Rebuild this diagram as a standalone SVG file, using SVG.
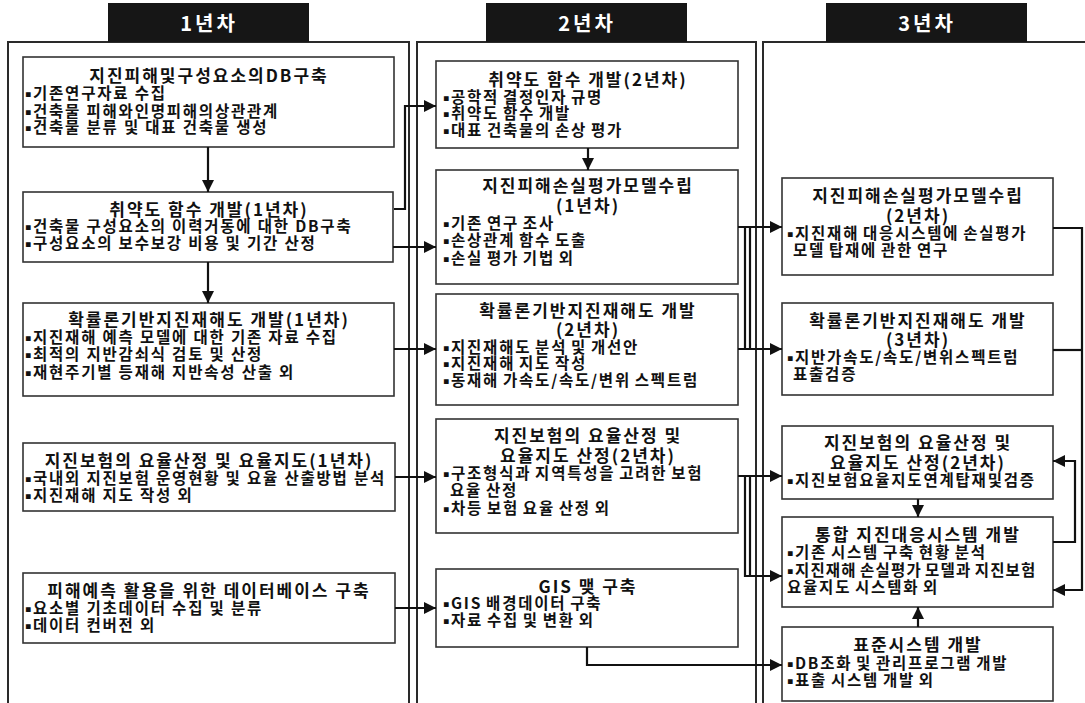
<svg xmlns="http://www.w3.org/2000/svg" width="1085" height="703" viewBox="0 0 1085 703">
<style>
.frame{fill:none;stroke:#2a2a2a;stroke-width:2}
.hdr{fill:#161616}
.hdrt{fill:#fff;font-family:"Noto Sans CJK KR","Noto Sans",sans-serif;font-weight:bold;font-size:20px;letter-spacing:3px;text-anchor:middle}
.box{fill:#fff;stroke:#333;stroke-width:1.6}
.t{font-family:"Noto Sans CJK KR","Noto Sans",sans-serif;font-weight:bold;font-size:17px;letter-spacing:2px;text-anchor:middle;fill:#111}
.b{font-family:"Noto Sans CJK KR","Noto Sans",sans-serif;font-weight:bold;font-size:15.5px;letter-spacing:1.8px;fill:#111}
.b2{word-spacing:-1.5px}
.b3{word-spacing:-1.5px}
.bu{font-family:"DejaVu Sans",sans-serif;font-size:9.5px;letter-spacing:1.5px}
.c{fill:none;stroke:#111;stroke-width:2.2}
.ca{fill:none;stroke:#111;stroke-width:2.2;marker-end:url(#ah)}
</style>
<defs>
<marker id="ah" viewBox="0 0 10 10" refX="10" refY="5" markerWidth="12" markerHeight="12" markerUnits="userSpaceOnUse" orient="auto"><path d="M0,0 L10,5 L0,10z" fill="#111"/></marker>
</defs>
<rect width="1085" height="703" fill="#fff"/>
<g id="columns">
<rect class="frame" x="8" y="42" width="401" height="680"/>
<rect class="frame" x="417" y="42" width="339" height="680"/>
<rect class="frame" x="763" y="42" width="340" height="680"/>
<rect class="hdr" x="108" y="3" width="201" height="39"/>
<text class="hdrt" x="209" y="31">1년차</text>
<rect class="hdr" x="486" y="3" width="201" height="39"/>
<text class="hdrt" x="587" y="31">2년차</text>
<rect class="hdr" x="826" y="3" width="201" height="39"/>
<text class="hdrt" x="927" y="31">3년차</text>
</g>
<g id="n1">
<rect class="box" x="23" y="57" width="371" height="90"/>
<text class="t" x="209" y="82">지진피해및구성요소의DB구축</text>
<text class="b" x="25" y="99"><tspan class="bu" dy="-1.6">▪</tspan><tspan dy="1.6">기존연구자료 수집</tspan></text>
<text class="b" x="25" y="117"><tspan class="bu" dy="-1.6">▪</tspan><tspan dy="1.6">건축물 피해와인명피해의상관관계</tspan></text>
<text class="b" x="25" y="133"><tspan class="bu" dy="-1.6">▪</tspan><tspan dy="1.6">건축물 분류 및 대표 건축물 생성</tspan></text>
</g>
<g id="n2">
<rect class="box" x="23" y="192" width="370" height="70"/>
<text class="t" x="209" y="216">취약도 함수 개발(1년차)</text>
<text class="b" x="25" y="232"><tspan class="bu" dy="-1.6">▪</tspan><tspan dy="1.6">건축물 구성요소의 이력거동에 대한 DB구축</tspan></text>
<text class="b" x="25" y="249"><tspan class="bu" dy="-1.6">▪</tspan><tspan dy="1.6">구성요소의 보수보강 비용 및 기간 산정</tspan></text>
</g>
<g id="n3">
<rect class="box" x="23" y="303" width="371" height="93"/>
<text class="t" x="209" y="326">확률론기반지진재해도 개발(1년차)</text>
<text class="b" x="25" y="343"><tspan class="bu" dy="-1.6">▪</tspan><tspan dy="1.6">지진재해 예측 모델에 대한 기존 자료 수집</tspan></text>
<text class="b" x="25" y="360"><tspan class="bu" dy="-1.6">▪</tspan><tspan dy="1.6">최적의 지반감쇠식 검토 및 산정</tspan></text>
<text class="b" x="25" y="378"><tspan class="bu" dy="-1.6">▪</tspan><tspan dy="1.6">재현주기별 등재해 지반속성 산출 외</tspan></text>
</g>
<g id="n4">
<rect class="box" x="23" y="443" width="372" height="68"/>
<text class="t" x="209" y="467">지진보험의 요율산정 및 요율지도(1년차)</text>
<text class="b" x="25" y="484"><tspan class="bu" dy="-1.6">▪</tspan><tspan dy="1.6">국내외 지진보험 운영현황 및 요율 산출방법 분석</tspan></text>
<text class="b" x="25" y="501"><tspan class="bu" dy="-1.6">▪</tspan><tspan dy="1.6">지진재해 지도 작성 외</tspan></text>
</g>
<g id="n5">
<rect class="box" x="23" y="573" width="372" height="70"/>
<text class="t" x="209" y="597">피해예측 활용을 위한 데이터베이스 구축</text>
<text class="b" x="25" y="614"><tspan class="bu" dy="-1.6">▪</tspan><tspan dy="1.6">요소별 기초데이터 수집 및 분류</tspan></text>
<text class="b" x="25" y="631"><tspan class="bu" dy="-1.6">▪</tspan><tspan dy="1.6">데이터 컨버전 외</tspan></text>
</g>
<g id="n6">
<rect class="box" x="436" y="61" width="302" height="87"/>
<text class="t" x="588" y="86">취약도 함수 개발(2년차)</text>
<text class="b b2" x="443" y="103"><tspan class="bu" dy="-1.6">▪</tspan><tspan dy="1.6">공학적 결정인자 규명</tspan></text>
<text class="b b2" x="443" y="119"><tspan class="bu" dy="-1.6">▪</tspan><tspan dy="1.6">취약도 함수 개발</tspan></text>
<text class="b b2" x="443" y="136"><tspan class="bu" dy="-1.6">▪</tspan><tspan dy="1.6">대표 건축물의 손상 평가</tspan></text>
</g>
<g id="n7">
<rect class="box" x="436" y="170" width="302" height="114"/>
<text class="t" x="588" y="192">지진피해손실평가모델수립</text>
<text class="t" x="588" y="212">(1년차)</text>
<text class="b b2" x="443" y="229"><tspan class="bu" dy="-1.6">▪</tspan><tspan dy="1.6">기존 연구 조사</tspan></text>
<text class="b b2" x="443" y="246"><tspan class="bu" dy="-1.6">▪</tspan><tspan dy="1.6">손상관계 함수 도출</tspan></text>
<text class="b b2" x="443" y="264"><tspan class="bu" dy="-1.6">▪</tspan><tspan dy="1.6">손실 평가 기법 외</tspan></text>
</g>
<g id="n8">
<rect class="box" x="436" y="294" width="302" height="111"/>
<text class="t" x="588" y="317">확률론기반지진재해도 개발</text>
<text class="t" x="588" y="336">(2년차)</text>
<text class="b b2" x="443" y="353"><tspan class="bu" dy="-1.6">▪</tspan><tspan dy="1.6">지진재해도 분석 및 개선안</tspan></text>
<text class="b b2" x="443" y="369"><tspan class="bu" dy="-1.6">▪</tspan><tspan dy="1.6">지진재해 지도 작성</tspan></text>
<text class="b b2" x="443" y="386"><tspan class="bu" dy="-1.6">▪</tspan><tspan dy="1.6">동재해 가속도/속도/변위 스펙트럼</tspan></text>
</g>
<g id="n9">
<rect class="box" x="436" y="419" width="302" height="114"/>
<text class="t" x="588" y="442">지진보험의 요율산정 및</text>
<text class="t" x="588" y="462">요율지도 산정(2년차)</text>
<text class="b b2" x="443" y="479"><tspan class="bu" dy="-1.6">▪</tspan><tspan dy="1.6">구조형식과 지역특성을 고려한 보험</tspan></text>
<text class="b b2" x="450" y="496">요율 산정</text>
<text class="b b2" x="443" y="514"><tspan class="bu" dy="-1.6">▪</tspan><tspan dy="1.6">차등 보험 요율 산정 외</tspan></text>
</g>
<g id="n10">
<rect class="box" x="436" y="569" width="302" height="78"/>
<text class="t" x="588" y="593">GIS 맺 구축</text>
<text class="b b2" x="443" y="609"><tspan class="bu" dy="-1.6">▪</tspan><tspan dy="1.6">GIS 배경데이터 구축</tspan></text>
<text class="b b2" x="443" y="626"><tspan class="bu" dy="-1.6">▪</tspan><tspan dy="1.6">자료 수집 및 변환 외</tspan></text>
</g>
<g id="n11">
<rect class="box" x="782" y="178" width="271" height="97"/>
<text class="t" x="918" y="202">지진피해손실평가모델수립</text>
<text class="t" x="918" y="222">(2년차)</text>
<text class="b b3" x="787" y="239"><tspan class="bu" dy="-1.6">▪</tspan><tspan dy="1.6">지진재해 대응시스템에 손실평가</tspan></text>
<text class="b b3" x="793" y="256">모델 탑재에 관한 연구</text>
</g>
<g id="n12">
<rect class="box" x="782" y="303" width="271" height="92"/>
<text class="t" x="918" y="327">확률론기반지진재해도 개발</text>
<text class="t" x="918" y="346">(3년차)</text>
<text class="b b3" x="787" y="363"><tspan class="bu" dy="-1.6">▪</tspan><tspan dy="1.6">지반가속도/속도/변위스펙트럼</tspan></text>
<text class="b b3" x="793" y="380">표출검증</text>
</g>
<g id="n13">
<rect class="box" x="782" y="426" width="271" height="73"/>
<text class="t" x="918" y="449">지진보험의 요율산정 및</text>
<text class="t" x="918" y="469">요율지도 산정(2년차)</text>
<text class="b b3" x="787" y="486"><tspan class="bu" dy="-1.6">▪</tspan><tspan dy="1.6">지진보험요율지도연계탑재및검증</tspan></text>
</g>
<g id="n14">
<rect class="box" x="782" y="517" width="271" height="90"/>
<text class="t" x="918" y="541">통합 지진대응시스템 개발</text>
<text class="b b3" x="787" y="558"><tspan class="bu" dy="-1.6">▪</tspan><tspan dy="1.6">기존 시스템 구축 현황 분석</tspan></text>
<text class="b b3" x="787" y="576" style="letter-spacing:1.2px"><tspan class="bu" dy="-1.6">▪</tspan><tspan dy="1.6">지진재해 손실평가 모델과 지진보험</tspan></text>
<text class="b b3" x="787" y="593">요율지도 시스템화 외</text>
</g>
<g id="n15">
<rect class="box" x="782" y="627" width="271" height="74"/>
<text class="t" x="918" y="651">표준시스템 개발</text>
<text class="b b3" x="787" y="669"><tspan class="bu" dy="-1.6">▪</tspan><tspan dy="1.6">DB조화 및 관리프로그램 개발</tspan></text>
<text class="b b3" x="787" y="686"><tspan class="bu" dy="-1.6">▪</tspan><tspan dy="1.6">표출 시스템 개발 외</tspan></text>
</g>
<g id="connectors">
<path class="ca" d="M208,147 V192"/>
<path class="ca" d="M208,262 V303"/>
<path class="ca" d="M588,148 V170"/>
<path class="ca" d="M918,499 V517"/>
<path class="ca" d="M918,627 V607"/>
<path class="ca" d="M394,209 H405 V106 H436"/>
<path class="ca" d="M393,247 H436"/>
<path class="ca" d="M394,349 H436"/>
<path class="ca" d="M395,477 H436"/>
<path class="ca" d="M395,608 H436"/>
<path class="ca" d="M738,227 H782"/>
<path class="ca" d="M738,349 H782"/>
<path class="c" d="M745,227 V349"/>
<path class="c" d="M750,227 V349"/>
<path class="ca" d="M738,476 H782"/>
<path class="ca" d="M745,476 V576 H782"/>
<path class="c" d="M750,476 V576"/>
<path class="ca" d="M587,647 V665 H782"/>
<path class="ca" d="M1053,228 H1082 V590 H1053"/>
<path class="c" d="M1053,350 H1082"/>
<path class="ca" d="M1053,542 H1075 V461 H1053"/>
</g>
</svg>
